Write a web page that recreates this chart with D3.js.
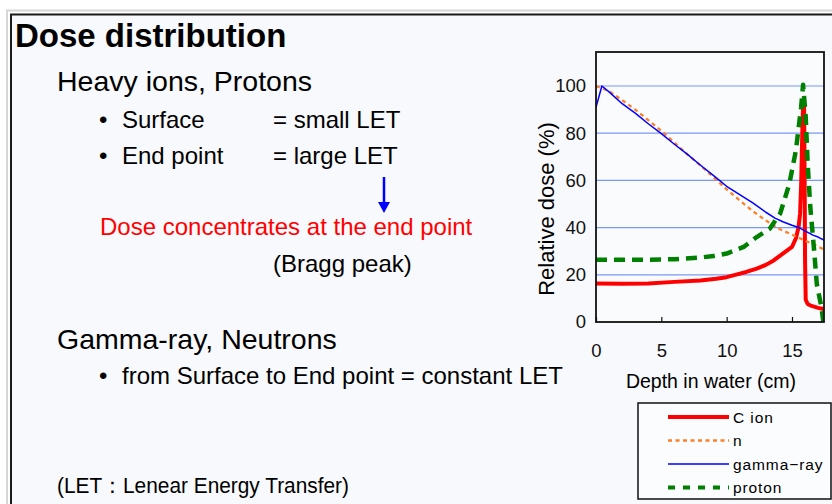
<!DOCTYPE html>
<meta charset="utf-8">
<title>Dose distribution</title>
<style>
  body { margin: 0; background: #fff; }
  svg { display: block; font-family: Arial, "Liberation Sans", sans-serif; }
</style>
<body>
<svg id="slide" width="832" height="504"></svg>
<script src="https://d3js.org/d3.v7.min.js"></script>
<script>

// depth (cm), relative dose (%)
var cIon = [[0,16.3],[2,16.2],[4,16.3],[6,17],[8,17.6],[9.2,18.3],[10,19],[10.8,20.2],[11.5,21.2],[12.3,22.6],[13,24.2],[13.6,26.1],[14.3,29],[15,31.8],[15.3,35.5],[15.5,40],[15.62,46],[15.7,58],[15.78,78],[15.85,92],[15.92,95],[15.97,60],[16,26],[16.05,9.5],[16.2,7.6],[16.5,6.8],[17,6],[17.5,5.4]];
var neutron = [[0,100],[1,97.8],[2,94],[3,90],[4,85.5],[5,81],[6,76],[7,71],[8,66.3],[9,61.3],[10,56.2],[11,51.5],[12,47],[13,43],[14,39.5],[15,37],[16,34.5],[17,32],[17.5,30.5]];
var gamma = [[0,91],[0.45,100],[1,97.5],[2,92.5],[3,88.5],[4,84],[5,79.8],[6,75.3],[7,71],[8,66.4],[9,62],[10,57.5],[11,54],[12,50.5],[13,46.5],[13.7,44],[14.3,42.5],[15,41],[15.6,39.8],[16.1,38.3],[16.6,36.8],[17,36],[17.5,34.5]];
var proton = [[0,26.4],[2,26.4],[4,26.4],[6,26.6],[8,27.3],[9,28],[10,29],[11.3,31.8],[12.3,36],[13.3,39.5],[14.1,46],[14.8,58.6],[15.3,72.7],[15.7,91],[15.85,100.5],[16.05,87],[16.2,67],[16.4,48.7],[16.7,30],[16.9,16],[17.25,6.4],[17.4,0],[17.6,0]];

var yTicks = [0, 20, 40, 60, 80, 100];
var xTicks = [0, 5, 10, 15];

var series = [
  {name: "C ion", data: cIon, color: "#ff0000", width: 4, dash: null},
  {name: "n", data: neutron, color: "#ff7f27", width: 2.3, dash: "4,3.5"},
  {name: "gamma\u2212ray", data: gamma, color: "#0000ff", width: 1.5, dash: null},
  {name: "proton", data: proton, color: "#008000", width: 4.5, dash: "11,7"}
];

var svg = d3.select("#slide");

// slide frame
svg.append("rect").attr("x", 0).attr("y", 0).attr("width", 832).attr("height", 504).attr("fill", "#ffffff");
svg.append("rect").attr("x", 7).attr("y", 10.5).attr("width", 900).attr("height", 600)
  .attr("fill", "none").attr("stroke", "#d6d6d6").attr("stroke-width", 2);
svg.append("rect").attr("x", 11).attr("y", 14.5).attr("width", 900).attr("height", 600)
  .attr("fill", "#f8f9fc").attr("stroke", "#1a1a1a").attr("stroke-width", 2);

// slide text
svg.append("text").attr("x", 15).attr("y", 47).attr("font-size", 33).attr("font-weight", "bold").text("Dose distribution");
svg.append("text").attr("x", 57).attr("y", 91).attr("font-size", 28.5).text("Heavy ions, Protons");
[["Surface", "= small LET", 128], ["End point", "= large LET", 164]].forEach(function(r) {
  svg.append("text").attr("x", 99).attr("y", r[2]).attr("font-size", 24).text("\u2022");
  svg.append("text").attr("x", 122).attr("y", r[2]).attr("font-size", 24).text(r[0]);
  svg.append("text").attr("x", 273).attr("y", r[2]).attr("font-size", 24).text(r[1]);
});

// down arrow
svg.append("line").attr("x1", 384).attr("y1", 177).attr("x2", 384).attr("y2", 204)
  .attr("stroke", "#0000ff").attr("stroke-width", 2.5);
svg.append("path").attr("d", "M378,202 L390,202 L384,213 Z").attr("fill", "#0000ff");

svg.append("text").attr("x", 100).attr("y", 235).attr("font-size", 24).attr("fill", "#ff0000").text("Dose concentrates at the end point");
svg.append("text").attr("x", 273).attr("y", 272).attr("font-size", 24).text("(Bragg peak)");
svg.append("text").attr("x", 57).attr("y", 349).attr("font-size", 28.5).text("Gamma-ray, Neutrons");
svg.append("text").attr("x", 99).attr("y", 384).attr("font-size", 24).text("\u2022");
svg.append("text").attr("x", 122).attr("y", 384).attr("font-size", 24).text("from Surface to End point = constant LET");
svg.append("text").attr("x", 57).attr("y", 493).attr("font-size", 22)
  .attr("textLength", 292).attr("lengthAdjust", "spacingAndGlyphs")
  .text("(LET\uff1aLenear Energy Transfer)");

// chart
var plot = {left: 596, top: 52, right: 824, bottom: 322};
var x = d3.scaleLinear().domain([0, 17.45]).range([plot.left, plot.right]);
var y = d3.scaleLinear().domain([0, 114.4]).range([plot.bottom, plot.top]);

var chart = svg.append("g");
chart.append("rect").attr("x", plot.left).attr("y", plot.top)
  .attr("width", plot.right - plot.left).attr("height", plot.bottom - plot.top)
  .attr("fill", "#fafbfd");

chart.selectAll("line.grid").data(yTicks.filter(function(d) { return d > 0; }))
  .enter().append("line").attr("class", "grid")
  .attr("x1", plot.left).attr("x2", plot.right)
  .attr("y1", function(d) { return y(d); }).attr("y2", function(d) { return y(d); })
  .attr("stroke", "#7a98f5").attr("stroke-width", 1.2);

var clip = svg.append("clipPath").attr("id", "clip").append("rect")
  .attr("x", plot.left).attr("y", plot.top - 5).attr("width", plot.right - plot.left).attr("height", plot.bottom - plot.top + 5);

var line = d3.line().x(function(d) { return x(d[0]); }).y(function(d) { return y(d[1]); });

chart.append("g").attr("clip-path", "url(#clip)").selectAll("path")
  .data(series).enter().append("path")
  .attr("d", function(s) { return line(s.data); })
  .attr("fill", "none")
  .attr("stroke", function(s) { return s.color; })
  .attr("stroke-width", function(s) { return s.width; })
  .attr("stroke-dasharray", function(s) { return s.dash; })
  .attr("stroke-linejoin", "round");

// axes
var yAxis = d3.axisLeft(y).tickValues(yTicks).tickSize(0).tickPadding(10);
var xAxis = d3.axisBottom(x).tickValues(xTicks).tickSize(-5).tickPadding(22);

var gy = chart.append("g").attr("transform", "translate(" + plot.left + ",0)").call(yAxis);
var gx = chart.append("g").attr("transform", "translate(0," + plot.bottom + ")").call(xAxis);
[gx, gy].forEach(function(g) {
  g.select(".domain").remove();
  g.selectAll("text").attr("font-size", 18.5).attr("fill", "#111").attr("font-family", "Arial, 'Liberation Sans', sans-serif");
  g.selectAll("line").attr("stroke", "#111").attr("stroke-width", 1.2);
});

chart.append("rect").attr("x", plot.left).attr("y", plot.top)
  .attr("width", plot.right - plot.left).attr("height", plot.bottom - plot.top)
  .attr("fill", "none").attr("stroke", "#111").attr("stroke-width", 1.8);

chart.append("text").attr("x", 711).attr("y", 388).attr("text-anchor", "middle")
  .attr("font-size", 19.5).text("Depth in water (cm)");
chart.append("text").attr("transform", "translate(554,209) rotate(-90)").attr("text-anchor", "middle")
  .attr("font-size", 22).text("Relative dose (%)");

// legend
var lg = svg.append("g");
lg.append("rect").attr("x", 638).attr("y", 403).attr("width", 193).attr("height", 96)
  .attr("fill", "#fbfcfe").attr("stroke", "#111").attr("stroke-width", 1.5);
series.forEach(function(s, i) {
  var yy = 417 + i * 23.5;
  lg.append("line").attr("x1", 668).attr("x2", 729).attr("y1", yy).attr("y2", yy)
    .attr("stroke", s.color).attr("stroke-width", s.name === "proton" ? 4 : s.width)
    .attr("stroke-dasharray", s.name === "proton" ? "7,8" : s.dash);
  lg.append("text").attr("x", 733).attr("y", yy + 5.5).attr("font-size", 15.5)
    .attr("letter-spacing", 0.9).text(s.name);
});

</script>
</body>
